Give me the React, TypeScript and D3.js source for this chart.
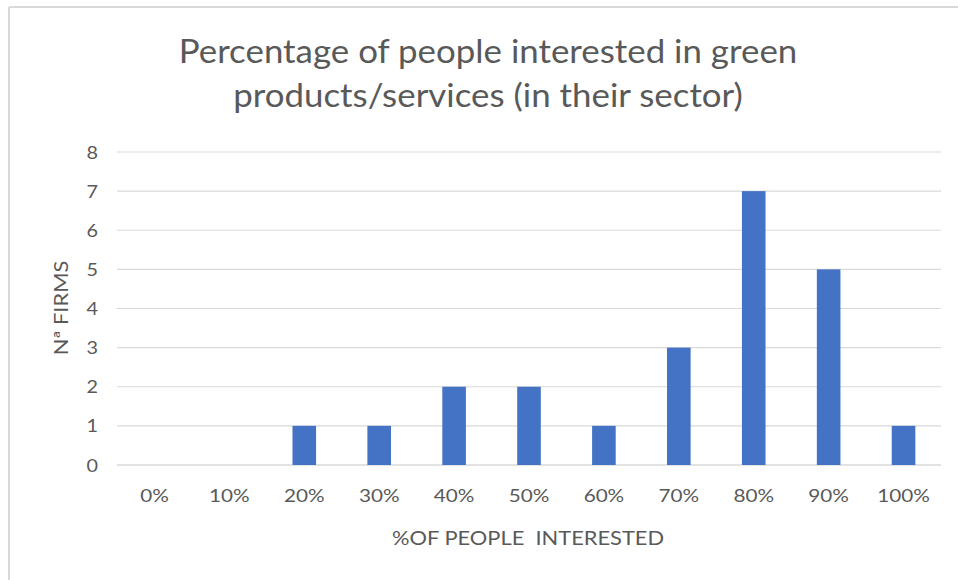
import React from "react";
import * as d3 from "d3";

const categories = ["0%", "10%", "20%", "30%", "40%", "50%", "60%", "70%", "80%", "90%", "100%"];
const firms = [0, 0, 1, 1, 2, 2, 1, 3, 7, 5, 1];
const yTicks = [0, 1, 2, 3, 4, 5, 6, 7, 8];
const titleLines = ["Percentage of people interested in green", "products/services (in their sector)"];
const xTitle = "%OF PEOPLE\u00a0\u00a0INTERESTED";
const yTitle = "Nª FIRMS";

const W = 958, H = 580;
const left = 117, right = 941, top = 152, bottom = 465;
const font = "Lato, 'Open Sans', sans-serif";
const textColor = "#595959";

function T({ x, y, sx = 1, rot = 0, size, anchor = "middle", children }: any) {
  return (
    <text
      transform={`translate(${x},${y}) rotate(${rot}) scale(${sx},1)`}
      textAnchor={anchor}
      fontFamily={font}
      fontSize={size}
      fill={textColor}
    >
      {children}
    </text>
  );
}

export default function App() {
  const x = d3.scaleBand<string>().domain(categories).range([left, right]).paddingInner(0.685).paddingOuter(0.3425);
  const y = d3.scaleLinear().domain([0, 8]).range([bottom, top]);
  return (
    <svg width={W} height={H} style={{ position: "absolute", left: 0, top: 0, background: "#fff" }}>
      <rect x={0} y={0} width={W} height={H} fill="#fff" />
      <line x1={9} x2={W} y1={7} y2={7} stroke="#d9d9d9" strokeWidth={2} />
      <line x1={9} x2={9} y1={7} y2={H} stroke="#d9d9d9" strokeWidth={2} />
      {titleLines.map((t, i) => (
        <T key={i} x={488} y={63 + i * 44} sx={1.09} size={32}>{t}</T>
      ))}
      {yTicks.map(t => (
        <g key={t}>
          <line x1={left} x2={right} y1={y(t)} y2={y(t)} stroke="#d9d9d9" strokeWidth={t === 0 ? 1.5 : 1.2} />
          <T x={98} y={y(t) + 6.5} sx={1.1} size={18} anchor="end">{t}</T>
        </g>
      ))}
      {categories.map((c, i) => (
        <g key={c}>
          {firms[i] > 0 && (
            <rect x={x(c)} y={y(firms[i])} width={x.bandwidth()} height={y(0) - y(firms[i])} fill="#4472C4" />
          )}
          <T x={(x(c) as number) + x.bandwidth() / 2} y={502} sx={1.15} size={18}>{c}</T>
        </g>
      ))}
      <T x={528} y={545} sx={1.15} size={19}>{xTitle}</T>
      <T x={68} y={308} rot={-90} sx={1.15} size={19}>{yTitle}</T>
    </svg>
  );
}
